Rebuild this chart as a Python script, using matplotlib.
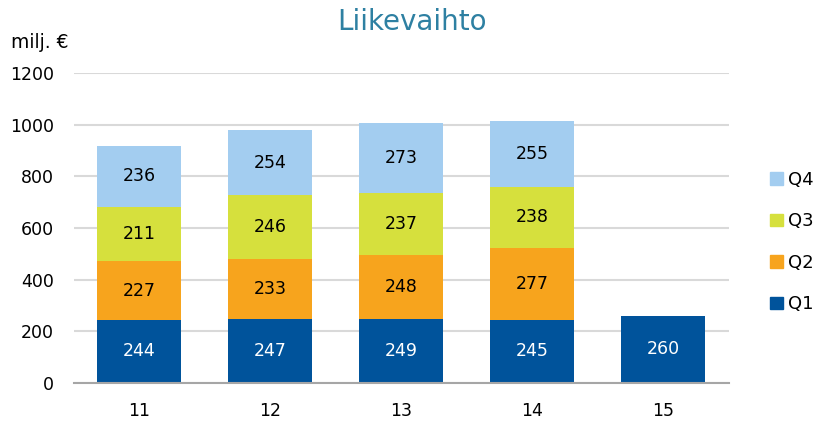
import matplotlib
matplotlib.use("Agg")
import matplotlib.pyplot as plt
from matplotlib.patches import Patch

years = ["11", "12", "13", "14", "15"]
q1 = [244, 247, 249, 245, 260]
q2 = [227, 233, 248, 277, 0]
q3 = [211, 246, 237, 238, 0]
q4 = [236, 254, 273, 255, 0]
yticks = [0, 200, 400, 600, 800, 1000, 1200]

colors = {"Q1": "#00539B", "Q2": "#F7A41D", "Q3": "#D6E03D", "Q4": "#A3CDF0"}
series = [("Q1", q1), ("Q2", q2), ("Q3", q3), ("Q4", q4)]

plt.rcParams["font.family"] = "DejaVu Sans"
fig = plt.figure(figsize=(8.15, 4.21), dpi=100)
ax = fig.add_axes([0.0902, 0.0903, 0.8038, 0.7363])

x = list(range(len(years)))
bottom = [0] * len(years)
for name, vals in series:
    ax.bar(x, vals, width=0.64, bottom=bottom, color=colors[name], zorder=3)
    for i, v in enumerate(vals):
        if v > 0:
            ax.text(x[i], bottom[i] + v / 2, str(v), ha="center", va="center",
                    fontsize=12.5, color="white" if name == "Q1" else "black", zorder=4)
    bottom = [b + v for b, v in zip(bottom, vals)]

ax.set_xlim(-0.5, len(years) - 0.5)
ax.set_ylim(0, 1200)
ax.set_yticks(yticks)
ax.set_xticks(x)
ax.set_xticklabels(years)
ax.tick_params(axis="both", length=0, labelsize=12.5)
ax.tick_params(axis="y", pad=14)
ax.tick_params(axis="x", pad=14)
ax.grid(axis="y", color="#D9D9D9", linewidth=1.5, zorder=0)
for s in ["top", "right", "left"]:
    ax.spines[s].set_visible(False)
ax.spines["bottom"].set_color("#A6A6A6")
ax.spines["bottom"].set_linewidth(1.5)
ax.spines["bottom"].set_zorder(5)

fig.text(0.506, 0.947, "Liikevaihto", ha="center", va="center", fontsize=20, color="#2E80A2")
fig.text(0.014, 0.9, "milj. €", ha="left", va="center", fontsize=13.5)

handles = [Patch(color=colors[n]) for n in ["Q4", "Q3", "Q2", "Q1"]]
fig.legend(handles, ["Q4", "Q3", "Q2", "Q1"], loc="center left",
           bbox_to_anchor=(0.925, 0.425), frameon=False, fontsize=13,
           handlelength=0.7, handleheight=0.7, handletextpad=0.3, labelspacing=1.3)

fig.savefig("out.png", dpi=100)
